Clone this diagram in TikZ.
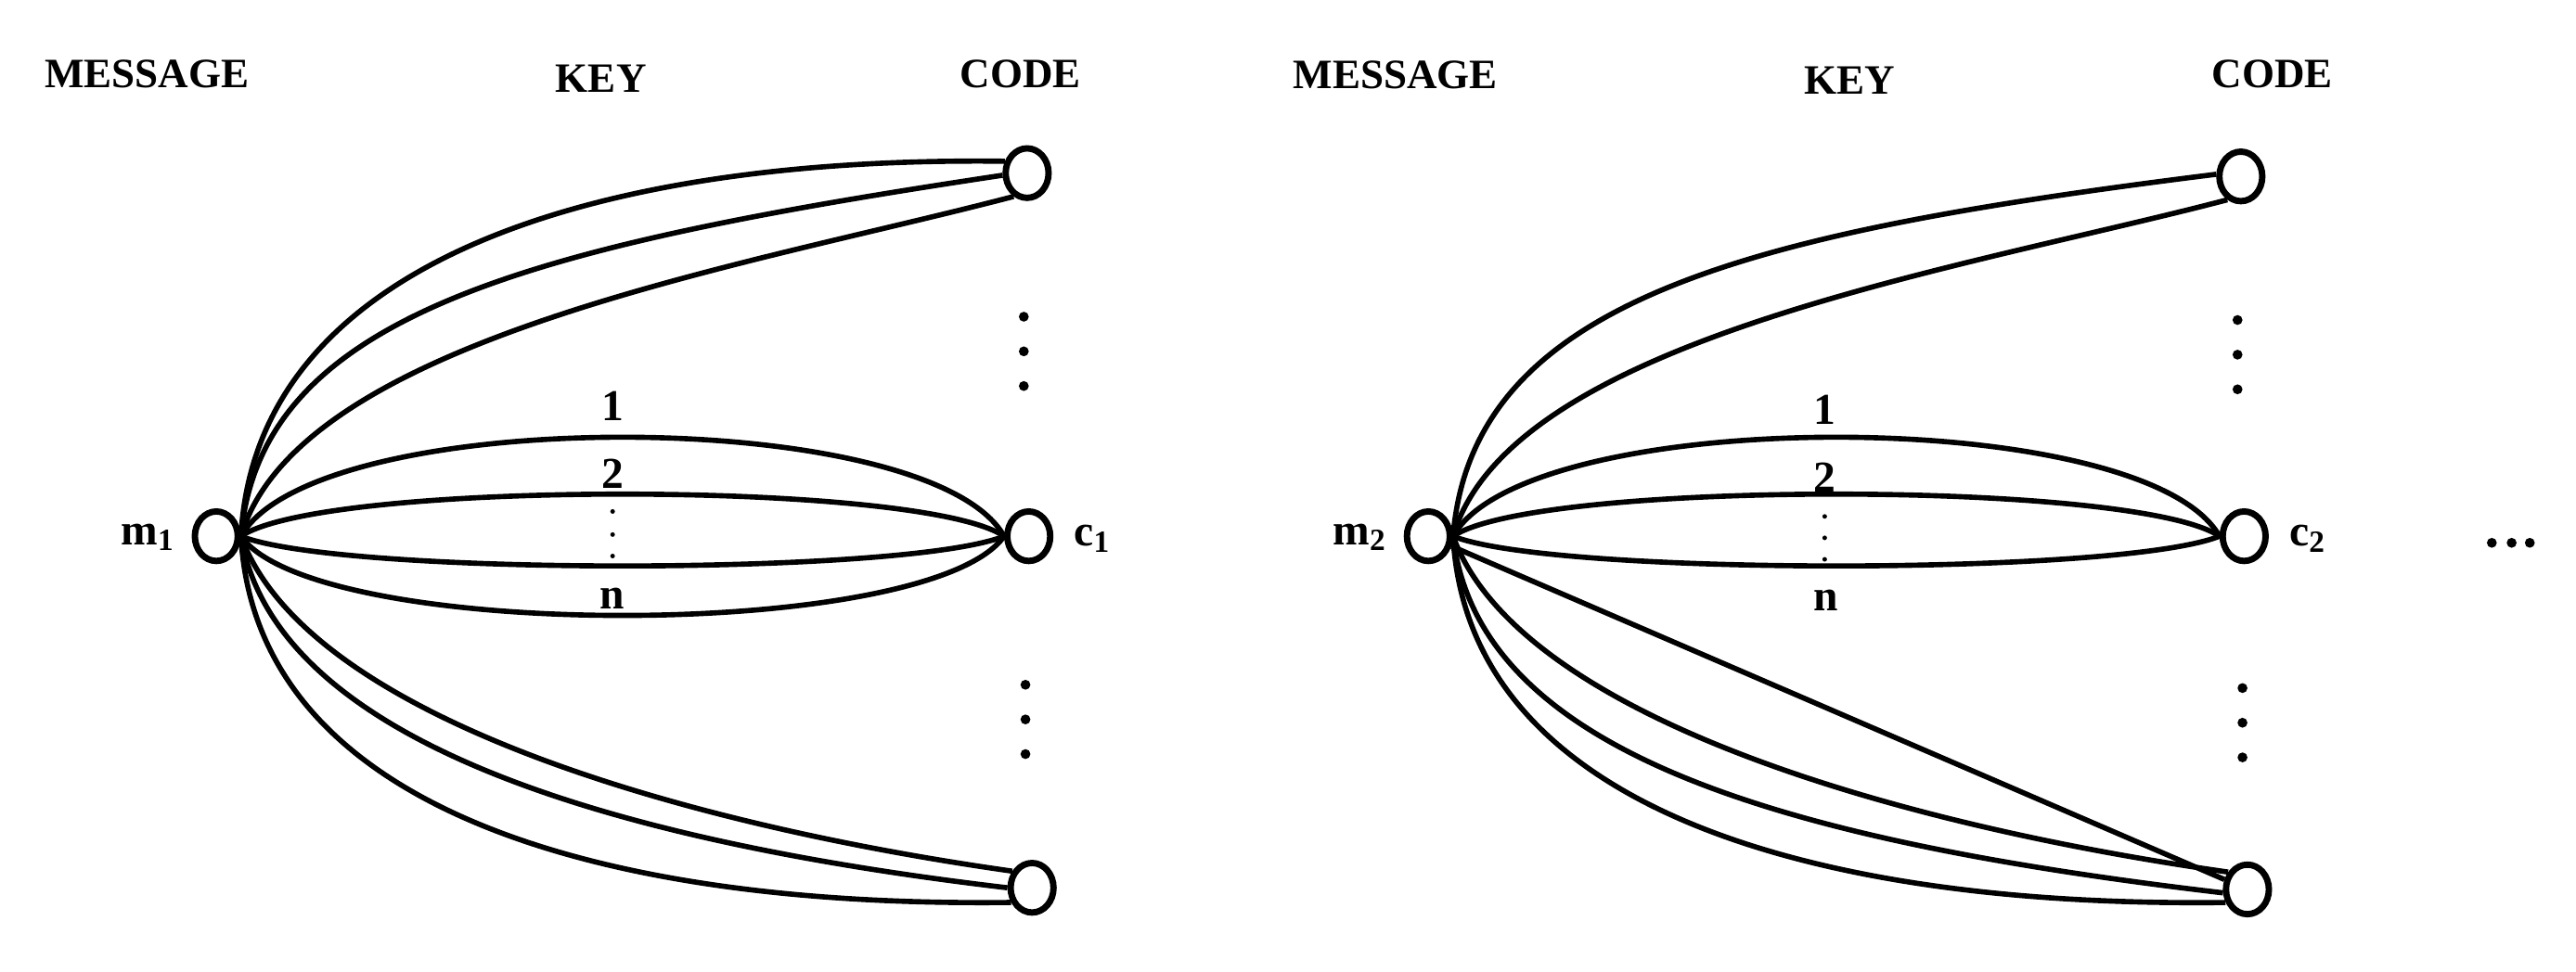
\documentclass[tikz,border=0pt]{standalone}
\usepackage{fontspec}
\setmainfont{Liberation Serif}
\usetikzlibrary{shapes.geometric}

\begin{document}
\begin{tikzpicture}[
    vert/.style={draw, ellipse, line width=1.1pt, minimum width=0.26cm, minimum height=0.3cm, inner sep=0pt},
    edge/.style={line width=0.9pt},
    head/.style={anchor=base, font=\fontsize{7.2}{8}\selectfont\bfseries},
    lab/.style={anchor=base, font=\fontsize{7.6}{8}\selectfont\bfseries}]
  \useasboundingbox (0,0) rectangle (15.6,5.889);

  % left diagram
  \node[head] (msg1) at (0.89,5.36) {MESSAGE};
  \node[head] (key1) at (3.64,5.33) {KEY};
  \node[head] (code1) at (6.18,5.36) {CODE};

  \node[vert] (m1) at (1.31,2.64) {};
  \node[vert] (t1) at (6.22,4.84) {};
  \node[vert] (c1) at (6.23,2.64) {};
  \node[vert] (b1) at (6.25,0.51) {};
  \node[lab] (m1lab) at (0.90,2.59) {m\textsubscript{1}};
  \node[lab] (c1lab) at (6.62,2.58) {c\textsubscript{1}};

  \draw[edge] (m1.east) .. controls +(0.09,1.66) and +(-2.5,0.03) .. (t1.152);
  \draw[edge] (m1.east) .. controls +(0.12,1.35) and +(-2.86,-0.43) .. (t1.185);
  \draw[edge] (m1.east) .. controls +(0.35,1.2) and +(-1.6,-0.42) .. (t1.240);

  \draw[edge] (m1.east) .. controls +(0.45,0.80) and +(-0.45,0.80) .. (c1.west);
  \draw[edge] (m1.east) .. controls +(0.5,0.34) and +(-0.5,0.34) .. (c1.west);
  \draw[edge] (m1.east) .. controls +(0.6,-0.24) and +(-0.6,-0.24) .. (c1.west);
  \draw[edge] (m1.east) .. controls +(0.45,-0.64) and +(-0.45,-0.64) .. (c1.west);

  \draw[edge] (m1.east) .. controls +(0.09,-1.64) and +(-2.52,-0.03) .. (b1.215);
  \draw[edge] (m1.east) .. controls +(0.19,-1.14) and +(-2.72,0.32) .. (b1.180);
  \draw[edge] (m1.east) .. controls +(0.4,-1.1) and +(-1.98,0.28) .. (b1.140);

  \node[lab] (k1a) at (3.71,3.34) {1};
  \node[lab] (k1b) at (3.71,2.93) {2};
  \node[lab] (k1n) at (3.71,2.20) {n};
  \foreach \y in {2.79,2.65,2.52} \fill (3.71,\y) circle (0.014);

  \foreach \y in {3.97,3.76,3.55} \fill (6.20,\y) circle (0.03);
  \foreach \y in {1.74,1.53,1.32} \fill (6.21,\y) circle (0.03);

  % right diagram
  \node[head] (msg2) at (8.45,5.35) {MESSAGE};
  \node[head] (key2) at (11.20,5.32) {KEY};
  \node[head] (code2) at (13.76,5.36) {CODE};

  \node[vert] (m2) at (8.65,2.64) {};
  \node[vert] (t2) at (13.57,4.82) {};
  \node[vert] (c2) at (13.59,2.64) {};
  \node[vert] (b2) at (13.61,0.50) {};
  \node[lab] (m2lab) at (8.24,2.59) {m\textsubscript{2}};
  \node[lab] (c2lab) at (13.98,2.58) {c\textsubscript{2}};

  \draw[edge] (m2.east) .. controls +(0.12,1.45) and +(-2.8,-0.35) .. (t2.175);
  \draw[edge] (m2.east) .. controls +(0.35,1.2) and +(-1.6,-0.42) .. (t2.240);

  \draw[edge] (m2.east) .. controls +(0.45,0.80) and +(-0.45,0.80) .. (c2.west);
  \draw[edge] (m2.east) .. controls +(0.5,0.34) and +(-0.5,0.34) .. (c2.west);
  \draw[edge] (m2.east) .. controls +(0.6,-0.24) and +(-0.6,-0.24) .. (c2.west);

  \draw[edge] (m2.east) .. controls +(0.09,-1.64) and +(-2.52,-0.03) .. (b2.211);
  \draw[edge] (m2.east) .. controls +(0.15,-1.3) and +(-2.72,0.32) .. (b2.188);
  \draw[edge] (m2.east) .. controls +(0.4,-1.1) and +(-1.98,0.28) .. (b2.138);
  \draw[edge] (m2) -- (b2);

  \node[lab] (k2a) at (11.05,3.32) {1};
  \node[lab] (k2b) at (11.05,2.91) {2};
  \node[lab] (k2n) at (11.06,2.19) {n};
  \foreach \y in {2.76,2.63,2.50} \fill (11.05,\y) circle (0.014);

  \foreach \y in {3.95,3.74,3.53} \fill (13.55,\y) circle (0.03);
  \foreach \y in {1.72,1.51,1.30} \fill (13.58,\y) circle (0.03);

  \foreach \x in {15.09,15.21,15.32} \fill (\x,2.60) circle (0.03);
\end{tikzpicture}
\end{document}
